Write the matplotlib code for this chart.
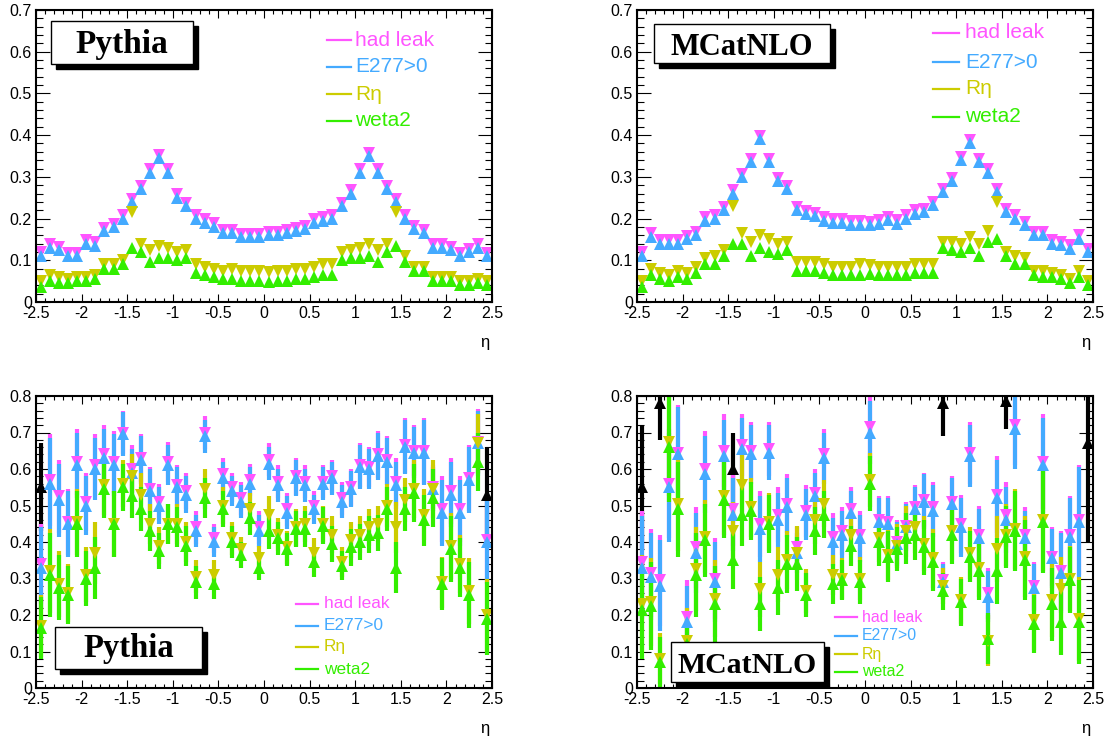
import numpy as np
import matplotlib
matplotlib.use("Agg")
import matplotlib.pyplot as plt
from matplotlib.patches import Rectangle
from matplotlib.ticker import MultipleLocator, FuncFormatter

# ── bins and series metadata ─────────────────────────────────────────────────
ETA_EDGES = np.linspace(-2.5, 2.5, 51)
ETA = 0.5 * (ETA_EDGES[:-1] + ETA_EDGES[1:])

LABELS  = ["had leak", "E277>0", "R\u03b7", "weta2"]
COLORS  = ["#ff55ff", "#44aaff", "#cccc00", "#33ee00"]
MARKERS = ["v", "^", "v", "^"]

# ── top row: Pythia ──────────────────────────────────────────────────────────
py_hadleak = [0.12, 0.138, 0.133, 0.118, 0.118, 0.148, 0.143, 0.178, 0.188, 0.208,
              0.248, 0.278, 0.318, 0.352, 0.318, 0.258, 0.238, 0.208, 0.198, 0.19,
              0.173, 0.173, 0.163, 0.163, 0.163,
              0.168, 0.168, 0.173, 0.178, 0.183, 0.198, 0.203, 0.208, 0.238, 0.268,
              0.318, 0.358, 0.318, 0.278, 0.248, 0.208, 0.183, 0.173, 0.138, 0.138,
              0.133, 0.118, 0.128, 0.138, 0.118]
py_e277 = [0.11, 0.13, 0.125, 0.11, 0.11, 0.14, 0.135, 0.17, 0.18, 0.20,
           0.24, 0.27, 0.31, 0.345, 0.31, 0.25, 0.23, 0.20, 0.19, 0.18,
           0.165, 0.165, 0.155, 0.155, 0.155,
           0.16, 0.16, 0.165, 0.17, 0.175, 0.19, 0.195, 0.20, 0.23, 0.26,
           0.31, 0.35, 0.31, 0.27, 0.24, 0.20, 0.175, 0.165, 0.13, 0.13,
           0.125, 0.11, 0.12, 0.13, 0.11]
py_reta = [0.05, 0.065, 0.06, 0.055, 0.06, 0.06, 0.065, 0.09, 0.09, 0.10,
           0.215, 0.14, 0.125, 0.135, 0.13, 0.12, 0.125, 0.09, 0.085, 0.08,
           0.075, 0.08, 0.075, 0.075, 0.075,
           0.072, 0.075, 0.075, 0.078, 0.08, 0.085, 0.09, 0.09, 0.12, 0.125,
           0.13, 0.14, 0.125, 0.14, 0.215, 0.11, 0.085, 0.085, 0.06, 0.06,
           0.06, 0.05, 0.05, 0.055, 0.05]
py_weta2 = [0.035, 0.05, 0.045, 0.045, 0.05, 0.05, 0.055, 0.08, 0.08, 0.09,
            0.13, 0.12, 0.095, 0.105, 0.105, 0.10, 0.105, 0.07, 0.065, 0.06,
            0.055, 0.055, 0.05, 0.05, 0.05,
            0.048, 0.05, 0.05, 0.055, 0.055, 0.06, 0.065, 0.065, 0.10, 0.105,
            0.105, 0.11, 0.095, 0.12, 0.135, 0.095, 0.075, 0.075, 0.05, 0.05,
            0.05, 0.04, 0.04, 0.045, 0.04]

# ── top row: MCatNLO ─────────────────────────────────────────────────────────
mc_hadleak = [0.12, 0.165, 0.148, 0.148, 0.148, 0.158, 0.168, 0.203, 0.208, 0.228,
              0.268, 0.308, 0.343, 0.398, 0.343, 0.298, 0.278, 0.228, 0.218, 0.213,
              0.203, 0.198, 0.198, 0.193, 0.193,
              0.192, 0.196, 0.204, 0.196, 0.208, 0.22, 0.224, 0.24, 0.272, 0.298,
              0.348, 0.388, 0.344, 0.318, 0.272, 0.224, 0.208, 0.192, 0.168, 0.168,
              0.148, 0.144, 0.136, 0.16, 0.128]
mc_e277 = [0.11, 0.155, 0.14, 0.14, 0.14, 0.15, 0.16, 0.195, 0.20, 0.22,
           0.26, 0.30, 0.335, 0.39, 0.335, 0.29, 0.27, 0.22, 0.21, 0.205,
           0.195, 0.19, 0.19, 0.185, 0.185,
           0.184, 0.188, 0.196, 0.188, 0.20, 0.212, 0.216, 0.232, 0.264, 0.29,
           0.34, 0.38, 0.336, 0.31, 0.264, 0.216, 0.20, 0.184, 0.16, 0.16,
           0.14, 0.136, 0.128, 0.152, 0.12]
mc_reta = [0.05, 0.08, 0.07, 0.065, 0.075, 0.07, 0.085, 0.105, 0.11, 0.125,
           0.23, 0.165, 0.145, 0.16, 0.15, 0.14, 0.145, 0.095, 0.095, 0.095,
           0.09, 0.085, 0.085, 0.085, 0.09,
           0.088, 0.085, 0.085, 0.085, 0.085, 0.09, 0.09, 0.09, 0.145, 0.145,
           0.14, 0.155, 0.14, 0.17, 0.24, 0.12, 0.11, 0.105, 0.075, 0.075,
           0.07, 0.065, 0.055, 0.075, 0.05]
mc_weta2 = [0.035, 0.065, 0.055, 0.05, 0.06, 0.055, 0.07, 0.09, 0.09, 0.11,
            0.14, 0.14, 0.11, 0.13, 0.12, 0.115, 0.125, 0.075, 0.075, 0.075,
            0.07, 0.065, 0.065, 0.065, 0.065,
            0.068, 0.065, 0.065, 0.065, 0.065, 0.07, 0.07, 0.07, 0.13, 0.125,
            0.12, 0.13, 0.11, 0.145, 0.15, 0.11, 0.09, 0.09, 0.065, 0.06,
            0.06, 0.055, 0.045, 0.06, 0.04]

# ── bottom row: Pythia (with errors) ─────────────────────────────────────────
pyb_hadleak = [0.34, 0.57, 0.525, 0.455, 0.62, 0.51, 0.61, 0.64, 0.62, 0.70,
               0.60, 0.63, 0.545, 0.51, 0.62, 0.555, 0.54, 0.44, 0.70, 0.41,
               0.585, 0.55, 0.52, 0.57, 0.44,
               0.625, 0.565, 0.49, 0.58, 0.565, 0.50, 0.565, 0.58, 0.52, 0.55,
               0.61, 0.605, 0.64, 0.625, 0.565, 0.665, 0.65, 0.65, 0.55, 0.49,
               0.54, 0.49, 0.575, 0.675, 0.405]
pyb_e277 = [0.33, 0.56, 0.515, 0.45, 0.61, 0.50, 0.60, 0.63, 0.61, 0.695,
            0.59, 0.625, 0.54, 0.50, 0.61, 0.55, 0.53, 0.43, 0.69, 0.40,
            0.575, 0.54, 0.51, 0.56, 0.43,
            0.615, 0.555, 0.48, 0.575, 0.555, 0.49, 0.56, 0.575, 0.51, 0.545,
            0.605, 0.60, 0.635, 0.62, 0.555, 0.66, 0.645, 0.645, 0.545, 0.48,
            0.53, 0.48, 0.57, 0.67, 0.40]
pyb_err_hi = [0.11, 0.125, 0.10, 0.09, 0.09, 0.08, 0.085, 0.08, 0.085, 0.06,
              0.065, 0.065, 0.06, 0.05, 0.055, 0.055, 0.05, 0.045, 0.045, 0.04,
              0.045, 0.04, 0.045, 0.045, 0.045,
              0.045, 0.045, 0.045, 0.05, 0.045, 0.04, 0.045, 0.045, 0.045, 0.05,
              0.06, 0.055, 0.065, 0.065, 0.065, 0.075, 0.07, 0.09, 0.06, 0.09,
              0.09, 0.09, 0.09, 0.09, 0.115]
pyb_reta = [0.17, 0.32, 0.285, 0.26, 0.455, 0.31, 0.37, 0.555, 0.45, 0.56,
            0.58, 0.53, 0.45, 0.39, 0.45, 0.45, 0.40, 0.305, 0.545, 0.31,
            0.50, 0.41, 0.38, 0.49, 0.355,
            0.475, 0.42, 0.385, 0.44, 0.45, 0.37, 0.45, 0.42, 0.345, 0.405,
            0.42, 0.44, 0.45, 0.50, 0.44, 0.515, 0.545, 0.475, 0.545, 0.29,
            0.39, 0.34, 0.265, 0.67, 0.20]
pyb_weta2 = [0.165, 0.31, 0.275, 0.255, 0.45, 0.30, 0.33, 0.545, 0.45, 0.55,
             0.525, 0.49, 0.43, 0.375, 0.45, 0.44, 0.39, 0.29, 0.52, 0.285,
             0.49, 0.40, 0.365, 0.465, 0.33,
             0.43, 0.41, 0.38, 0.435, 0.435, 0.345, 0.445, 0.395, 0.335, 0.385,
             0.40, 0.42, 0.425, 0.49, 0.33, 0.49, 0.535, 0.46, 0.52, 0.285,
             0.38, 0.33, 0.255, 0.62, 0.19]
pyb_err_lo = [0.085, 0.115, 0.09, 0.08, 0.09, 0.075, 0.085, 0.08, 0.09, 0.065,
              0.06, 0.06, 0.055, 0.05, 0.055, 0.055, 0.055, 0.045, 0.055, 0.04,
              0.05, 0.045, 0.035, 0.045, 0.035,
              0.05, 0.045, 0.045, 0.05, 0.05, 0.04, 0.05, 0.05, 0.04, 0.05,
              0.05, 0.05, 0.05, 0.06, 0.07, 0.06, 0.08, 0.07, 0.08, 0.07,
              0.09, 0.08, 0.09, 0.08, 0.10]
# extra (black) graph, only visible at the edges
pyb_black_eta = [-2.45, 2.45]
pyb_black_val = [0.55, 0.53]
pyb_black_err = [0.12, 0.13]

# ── bottom row: MCatNLO (with errors) ────────────────────────────────────────
nan = np.nan
mcb_hadleak = [0.345, 0.315, 0.295, 0.56, 0.645, 0.195, 0.385, 0.60, 0.30, 0.65,
               0.49, 0.665, 0.65, 0.45, 0.655, 0.475, 0.505, 0.385, 0.485, 0.535,
               0.64, 0.415, 0.43, 0.49, 0.42,
               0.715, 0.46, 0.455, 0.40, 0.445, 0.495, 0.515, 0.495, 0.295, 0.51,
               0.45, 0.645, 0.42, 0.26, 0.53, 0.475, 0.72, 0.42, 0.28, 0.62,
               0.36, 0.32, 0.42, 0.46, nan]
mcb_e277 = [0.33, 0.305, 0.28, 0.55, 0.64, 0.18, 0.37, 0.585, 0.29, 0.635,
            0.475, 0.655, 0.64, 0.435, 0.645, 0.46, 0.495, 0.37, 0.475, 0.525,
            0.63, 0.40, 0.42, 0.48, 0.41,
            0.70, 0.455, 0.45, 0.395, 0.44, 0.49, 0.51, 0.485, 0.29, 0.505,
            0.44, 0.635, 0.41, 0.25, 0.52, 0.46, 0.71, 0.41, 0.275, 0.61,
            0.355, 0.315, 0.415, 0.455, nan]
mcb_err_hi = [0.14, 0.12, 0.125, 0.15, 0.13, 0.10, 0.11, 0.105, 0.11, 0.10,
              0.10, 0.085, 0.08, 0.09, 0.075, 0.075, 0.08, 0.055, 0.07, 0.065,
              0.07, 0.065, 0.065, 0.06, 0.065,
              0.085, 0.065, 0.07, 0.06, 0.065, 0.06, 0.075, 0.07, 0.05, 0.07,
              0.08, 0.085, 0.08, 0.07, 0.105, 0.09, 0.11, 0.075, 0.065, 0.13,
              0.08, 0.11, 0.105, 0.15, nan]
mcb_reta = [0.23, 0.235, 0.08, 0.675, 0.505, 0.13, 0.325, 0.415, 0.245, 0.525,
            0.43, 0.555, 0.495, 0.27, 0.455, 0.31, 0.35, 0.37, 0.265, 0.46,
            0.505, 0.31, 0.30, 0.42, 0.30,
            0.57, 0.41, 0.365, 0.39, 0.43, 0.44, 0.395, 0.355, 0.28, 0.43,
            0.24, 0.37, 0.33, 0.13, 0.38, 0.42, 0.435, 0.36, 0.185, 0.46,
            0.24, 0.27, 0.30, 0.19, nan]
mcb_weta2 = [0.215, 0.225, 0.07, 0.66, 0.49, 0.12, 0.31, 0.405, 0.23, 0.515,
             0.35, 0.475, 0.485, 0.23, 0.45, 0.275, 0.34, 0.34, 0.255, 0.43,
             0.475, 0.285, 0.295, 0.39, 0.29,
             0.56, 0.40, 0.36, 0.38, 0.41, 0.42, 0.385, 0.345, 0.265, 0.42,
             0.235, 0.36, 0.32, 0.135, 0.32, 0.415, 0.43, 0.35, 0.175, 0.455,
             0.23, 0.18, 0.295, 0.18, nan]
mcb_err_lo = [0.135, 0.12, 0.07, 0.15, 0.13, 0.09, 0.115, 0.10, 0.105, 0.105,
              0.08, 0.085, 0.08, 0.075, 0.08, 0.075, 0.08, 0.075, 0.06, 0.065,
              0.065, 0.055, 0.055, 0.055, 0.06,
              0.075, 0.065, 0.07, 0.06, 0.07, 0.07, 0.075, 0.08, 0.05, 0.08,
              0.065, 0.07, 0.08, 0.07, 0.09, 0.085, 0.11, 0.11, 0.08, 0.14,
              0.10, 0.09, 0.09, 0.115, nan]
mcb_black_eta = [-2.45, -2.25, -1.45, 0.85, 1.55, 2.45]
mcb_black_val = [0.55, 0.78, 0.60, 0.78, 0.785, 0.67]
mcb_black_err = [0.17, 0.10, 0.10, 0.09, 0.075, 0.27]

# ── figure geometry (pixels of a 1114 x 742 canvas) ──────────────────────────
W, H = 1114, 742
FONT = "Liberation Sans"
SERIF = "Liberation Serif"


def px_axes(x0, y0, x1, y1):
    return [x0 / W, 1 - y1 / H, (x1 - x0) / W, (y1 - y0) / H]


def style_axis(ax, ymax):
    ax.set_xlim(-2.5, 2.5)
    ax.set_ylim(0, ymax)
    ax.xaxis.set_major_locator(MultipleLocator(0.5))
    ax.xaxis.set_minor_locator(MultipleLocator(0.1))
    ax.yaxis.set_major_locator(MultipleLocator(0.1))
    ax.yaxis.set_minor_locator(MultipleLocator(0.02))
    fmt = FuncFormatter(lambda v, p: f"{v:g}" if abs(v) > 1e-9 else "0")
    ax.xaxis.set_major_formatter(fmt)
    ax.yaxis.set_major_formatter(fmt)
    ax.tick_params(which="both", direction="in", top=True, right=True,
                   width=0.8, labelsize=11.5, color="black")
    ax.tick_params(axis="x", which="major", length=6, pad=3)
    ax.tick_params(axis="x", which="minor", length=3)
    ax.tick_params(axis="y", which="major", length=10, pad=3)
    ax.tick_params(axis="y", which="minor", length=5)
    for lab in ax.get_xticklabels() + ax.get_yticklabels():
        lab.set_family(FONT)
    for sp in ax.spines.values():
        sp.set_linewidth(1.5)
    ax.text(0.985, -0.14, "\u03b7", transform=ax.transAxes, ha="center",
            va="center", fontsize=12, family=FONT)


def draw_series(ax, values, errs=None, ms=8.5):
    for i, (vals, col, mk) in enumerate(zip(values, COLORS, MARKERS)):
        if errs is None:
            ax.plot(ETA, vals, ls="none", marker=mk, color=col, ms=ms, mew=0)
        else:
            ax.errorbar(ETA, vals, yerr=errs[i // 2], fmt=mk, color=col,
                        ecolor=col, elinewidth=3, capsize=0, ms=ms, mew=0)


def draw_legend(fig, x_line0, x_line1, x_text, rows, fs):
    for lab, col, y in zip(LABELS, COLORS, rows):
        fig.add_artist(plt.Line2D([x_line0 / W, x_line1 / W], [1 - y / H] * 2,
                                  color=col, lw=1.6, transform=fig.transFigure))
        fig.text(x_text / W, 1 - y / H, lab, color=col, fontsize=fs,
                 family=FONT, ha="left", va="center")


def title_box(fig, text, x0, y0, x1, y1, base, fs, sh=5):
    fig.add_artist(Rectangle(((x0 + sh) / W, 1 - (y1 + sh) / H), (x1 - x0) / W,
                             (y1 - y0) / H, transform=fig.transFigure,
                             facecolor="black", edgecolor="black", lw=1))
    fig.add_artist(Rectangle((x0 / W, 1 - y1 / H), (x1 - x0) / W, (y1 - y0) / H,
                             transform=fig.transFigure, facecolor="white",
                             edgecolor="black", lw=1))
    fig.text((x0 + x1) / 2 / W, 1 - base / H, text, ha="center", va="baseline",
             fontsize=fs, fontweight="bold", family=SERIF)


fig = plt.figure(figsize=(W / 100, H / 100), dpi=100)
fig.patch.set_facecolor("white")

ax_tl = fig.add_axes(px_axes(36, 10, 492, 302))
ax_tr = fig.add_axes(px_axes(637, 10, 1093, 302))
ax_bl = fig.add_axes(px_axes(36, 396, 492, 688))
ax_br = fig.add_axes(px_axes(637, 396, 1093, 688))

# top row
draw_series(ax_tl, [py_hadleak, py_e277, py_reta, py_weta2])
draw_series(ax_tr, [mc_hadleak, mc_e277, mc_reta, mc_weta2])
style_axis(ax_tl, 0.7)
style_axis(ax_tr, 0.7)

# bottom row
ax_bl.errorbar(pyb_black_eta, pyb_black_val, yerr=pyb_black_err, fmt="^",
               color="black", elinewidth=3, capsize=0, ms=8.5, mew=0)
draw_series(ax_bl, [pyb_hadleak, pyb_e277, pyb_reta, pyb_weta2],
            errs=[pyb_err_hi, pyb_err_lo])
ax_br.errorbar(mcb_black_eta, mcb_black_val, yerr=mcb_black_err, fmt="^",
               color="black", elinewidth=3, capsize=0, ms=8.5, mew=0)
draw_series(ax_br, [mcb_hadleak, mcb_e277, mcb_reta, mcb_weta2],
            errs=[mcb_err_hi, mcb_err_lo])
style_axis(ax_bl, 0.8)
style_axis(ax_br, 0.8)

# legends
draw_legend(fig, 327, 351, 355, [40, 67, 94, 121], 15)
draw_legend(fig, 933, 959, 965, [33, 62, 89, 117], 15)
draw_legend(fig, 296, 318, 324, [604, 626, 647, 669], 12.4)
draw_legend(fig, 835, 857, 862, [617, 636, 654, 672], 11.4)

# generator labels
title_box(fig, "Pythia", 51, 21, 193, 64, 53, 24)
title_box(fig, "MCatNLO", 654, 24, 830, 63, 55, 22)
title_box(fig, "Pythia", 55, 627, 202, 669, 657, 23.5)
title_box(fig, "MCatNLO", 671, 642, 824, 682, 673, 21.4)

fig.savefig("out.png", dpi=100)
